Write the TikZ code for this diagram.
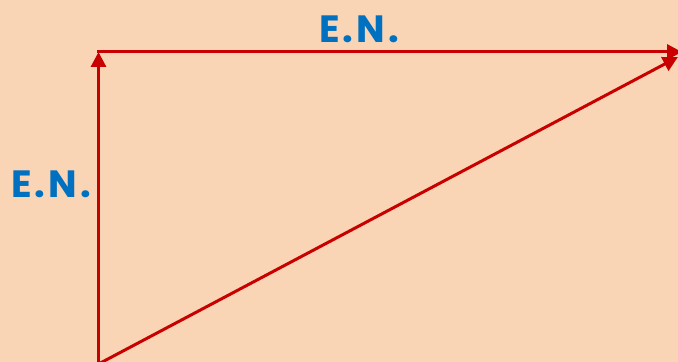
\documentclass[tikz,border=0pt]{standalone}
\usepackage{fontspec}
\setmainfont{Poppins}
\usetikzlibrary{arrows.meta,positioning,calc}
\definecolor{peach}{RGB}{250,213,181}
\definecolor{vecred}{RGB}{200,0,0}
\definecolor{labelblue}{RGB}{0,112,192}

\begin{document}
\begin{tikzpicture}[
    x=0.5pt, y=0.5pt,
    vec/.style={-{Triangle[length=7.5pt,width=7.5pt]}, line width=1.5pt, draw=vecred, fill=vecred},
    lbl/.style={text=labelblue, font=\fontsize{19}{21}\selectfont\bfseries\addfontfeature{LetterSpace=8}, inner sep=0pt}
]
\fill[peach] (0,0) rectangle (678,362);
\useasboundingbox (0,0) rectangle (678,362);
\clip (0,0) rectangle (678,362);
\coordinate (base) at (98.5,-2);
\coordinate (corner) at (98.5,310);
\coordinate (right) at (682,310);
\coordinate (tip) at (678,305);
\node[lbl] (top) at (359,333) {E.N.};
\node[lbl] (side) at (51,178) {E.N.};
\draw[vec] (base) -- (corner);
\draw[vec] ($(corner)+(-1.5,0)$) -- (right);
\draw[vec] (base) -- (tip);
\end{tikzpicture}
\end{document}
